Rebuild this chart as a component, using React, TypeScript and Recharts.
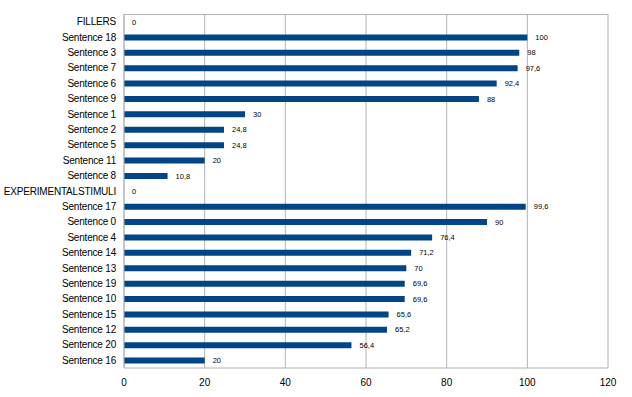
import React from 'react';
import { BarChart, Bar, XAxis, YAxis, CartesianGrid, LabelList } from 'recharts';

const categories = [
  'FILLERS', 'Sentence 18', 'Sentence 3', 'Sentence 7', 'Sentence 6', 'Sentence 9',
  'Sentence 1', 'Sentence 2', 'Sentence 5', 'Sentence 11', 'Sentence 8',
  'EXPERIMENTALSTIMULI', 'Sentence 17', 'Sentence 0', 'Sentence 4', 'Sentence 14',
  'Sentence 13', 'Sentence 19', 'Sentence 10', 'Sentence 15', 'Sentence 12',
  'Sentence 20', 'Sentence 16',
];
const values = [
  0, 100, 98, 97.6, 92.4, 88, 30, 24.8, 24.8, 20, 10.8,
  0, 99.6, 90, 76.4, 71.2, 70, 69.6, 69.6, 65.6, 65.2, 56.4, 20,
];
const xTicks = [0, 20, 40, 60, 80, 100, 120];

const data = categories.map((name, i) => ({ name, value: values[i] }));

const FONT = 'Liberation Sans, Arial, sans-serif';

const ValueLabel = (props: any) => {
  const { x, y, width, height, value } = props;
  if (value === undefined || value === null) return null;
  const tx = Number(x) + Math.max(0, Number(width) || 0) + 8;
  const ty = Number(y) + Number(height) / 2;
  return (
    <text x={tx} y={ty} dy="0.35em" fontSize={7.5} fill="#000" fontFamily={FONT} textAnchor="start">
      {String(value).replace('.', ',')}
    </text>
  );
};

export default function App() {
  return (
    <div style={{ position: 'absolute', left: 0, top: 0, background: '#fff' }}>
      <BarChart
        width={632}
        height={397}
        data={data}
        layout="vertical"
        margin={{ top: 14, right: 24, bottom: 0, left: 0 }}
        barCategoryGap={0}
      >
        <CartesianGrid
          horizontal={true}
          horizontalPoints={[14.5]}
          vertical={true}
          stroke="#b3b3b3"
        />
        <XAxis
          type="number"
          domain={[0, 120]}
          ticks={xTicks}
          height={29}
          tickLine={false}
          axisLine={{ stroke: '#b3b3b3' }}
          tick={{ fontSize: 10, fill: '#000', fontFamily: FONT }}
          tickMargin={5}
        />
        <YAxis
          type="category"
          dataKey="name"
          width={124}
          interval={0}
          tickLine={false}
          axisLine={{ stroke: '#b3b3b3' }}
          tick={{ fontSize: 10, fill: '#000', fontFamily: FONT, letterSpacing: -0.2 }}
        />
        <Bar dataKey="value" fill="#004586" barSize={6} minPointSize={0.01} isAnimationActive={false}>
          <LabelList dataKey="value" content={ValueLabel} />
        </Bar>
      </BarChart>
    </div>
  );
}
